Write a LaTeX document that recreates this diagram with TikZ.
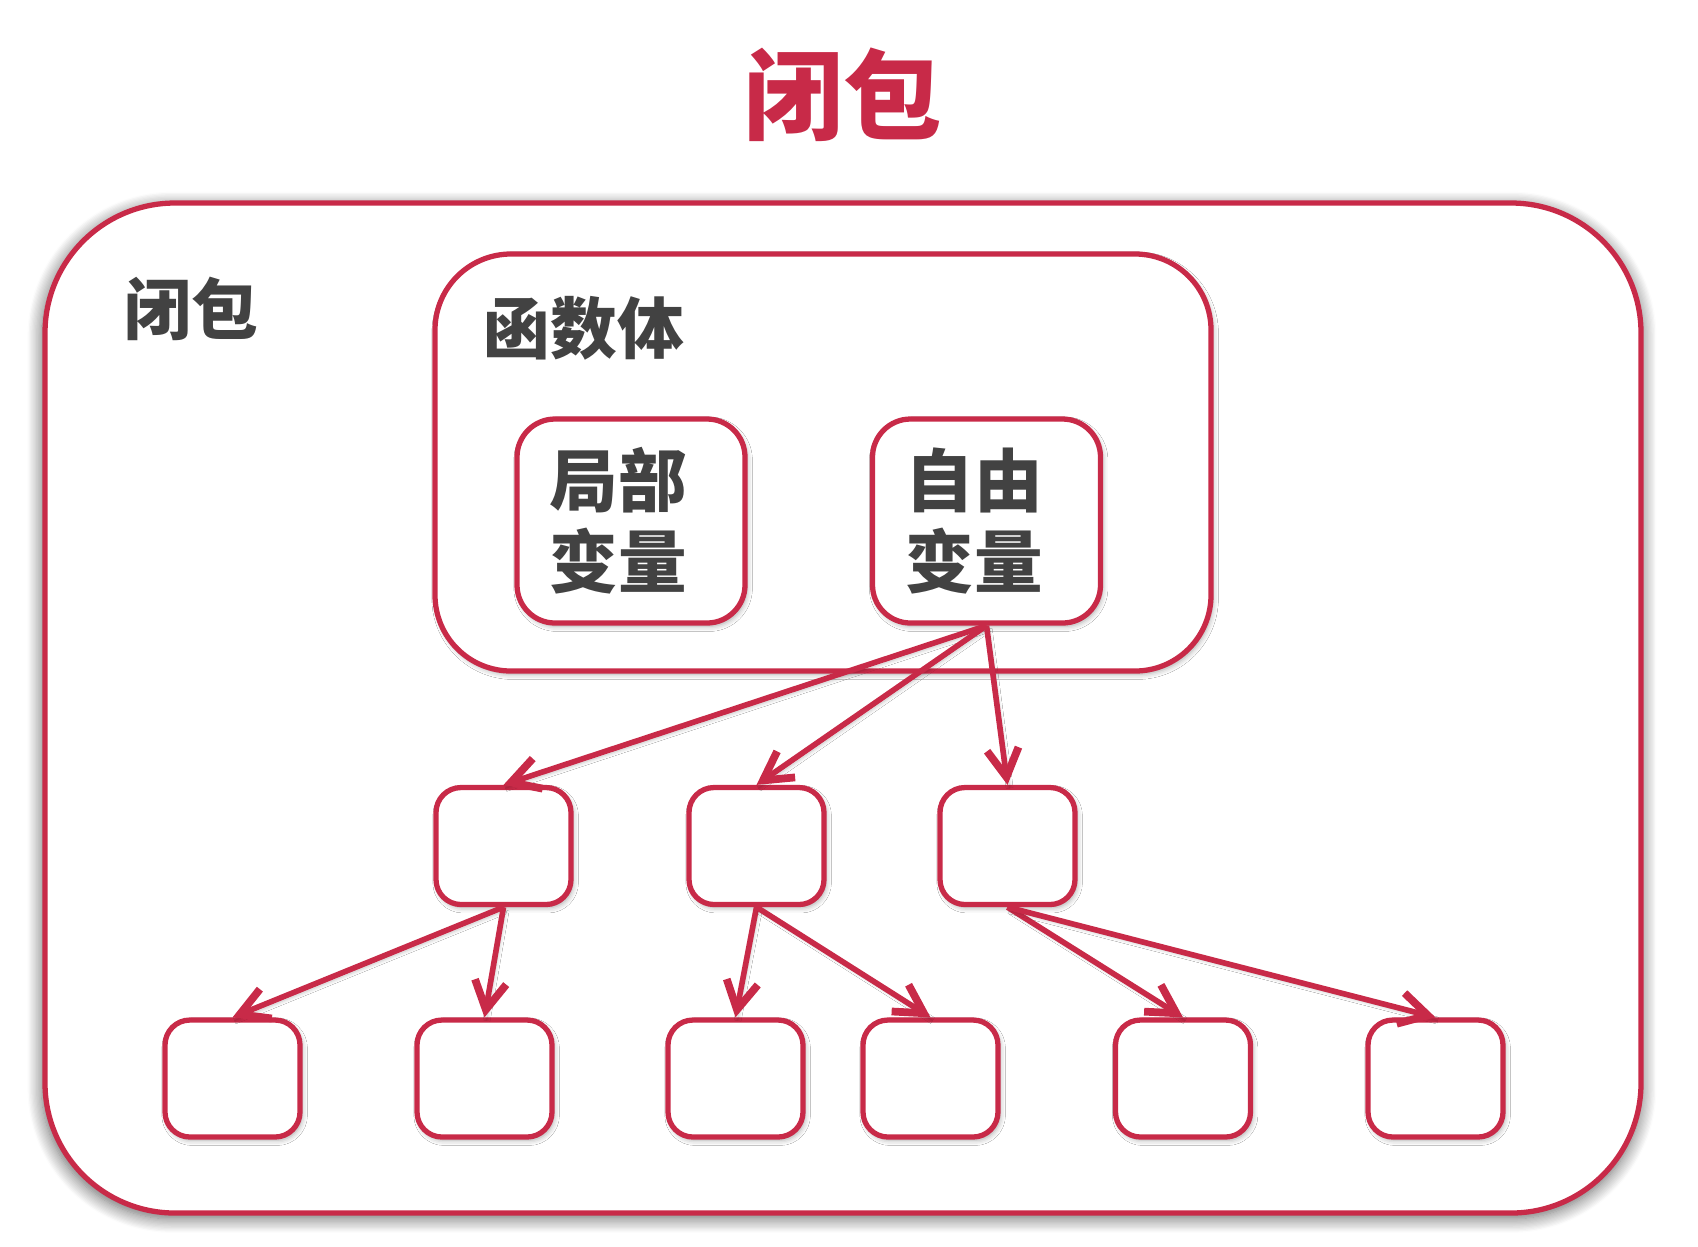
\documentclass[tikz,border=0pt]{standalone}
\usepackage{fontspec}
\newfontfamily\cjk{Noto Sans CJK SC}
\usetikzlibrary{arrows.meta,shadows.blur}
\definecolor{closred}{RGB}{200,42,72}
\definecolor{textgrey}{RGB}{66,66,66}

\begin{document}
\begin{tikzpicture}[
    barb/.tip={Straight Barb[length=8pt,width=9pt,line width=2.2pt]},
    box/.style={draw=closred, line width=1.5pt, fill=white, rounded corners=#1,
        blur shadow={shadow xshift=0.6pt, shadow yshift=-0.9pt, shadow blur radius=1.5pt, shadow opacity=35}},
    box/.default=0.25cm,
    small/.style={box, minimum width=1.35cm, minimum height=1.17cm},
    var/.style={box=0.38cm, minimum width=2.28cm, minimum height=2.04cm,
        font=\cjk\bfseries\fontsize{19.5}{23}\selectfont, text=textgrey, align=center},
    label/.style={font=\cjk\bfseries\fontsize{19}{23}\selectfont, text=textgrey},
    link/.style={-barb, draw=closred, line width=1.6pt,
        blur shadow={shadow xshift=0.6pt, shadow yshift=-0.9pt, shadow blur radius=1pt, shadow opacity=25}},
]
    \useasboundingbox (0,0) rectangle (16.98,-12.46);

    \node[font=\cjk\bfseries\fontsize{28}{32}\selectfont, text=closred] (title) at (8.43,-0.95) {闭包};

    % outer closure box
    \node[draw=closred, line width=1.5pt, fill=white, rounded corners=1.3cm,
        minimum width=15.96cm, minimum height=10.1cm,
        blur shadow={shadow xshift=-0.3pt, shadow yshift=-1.2pt, shadow scale=1.003,
            shadow blur radius=4pt, shadow blur steps=12, shadow opacity=60}] (clos) at (8.43,-7.08) {};
    \node[label] (closlabel) at (1.91,-3.09) {闭包};

    % function body
    \node[box=0.76cm, minimum width=7.76cm, minimum height=4.17cm] (body) at (8.23,-4.625) {};
    \node[label] (bodylabel) at (5.84,-3.28) {函数体};
    \node[var] (local) at (6.31,-5.21) {局部\hspace*{0.25cm}\\变量\hspace*{0.25cm}};
    \node[var] (free) at (9.865,-5.21) {自由\hspace*{0.25cm}\\变量\hspace*{0.25cm}};

    % referenced objects
    \node[small] (m1) at (5.035,-8.46) {};
    \node[small] (m2) at (7.565,-8.46) {};
    \node[small] (m3) at (10.075,-8.46) {};

    \node[small] (b1) at (2.325,-10.785) {};
    \node[small] (b2) at (4.845,-10.785) {};
    \node[small] (b3) at (7.355,-10.785) {};
    \node[small] (b4) at (9.305,-10.785) {};
    \node[small] (b5) at (11.83,-10.785) {};
    \node[small] (b6) at (14.355,-10.785) {};

    \draw[link] (free.south) -- (m1.north);
    \draw[link] (free.south) -- (m2.north);
    \draw[link] (free.south) -- (m3.north);

    \draw[link] (m1.south) -- (b1.north);
    \draw[link] (m1.south) -- (b2.north);
    \draw[link] (m2.south) -- (b3.north);
    \draw[link] (m2.south) -- (b4.north);
    \draw[link] (m3.south) -- (b5.north);
    \draw[link] (m3.south) -- (b6.north);
\end{tikzpicture}
\end{document}
